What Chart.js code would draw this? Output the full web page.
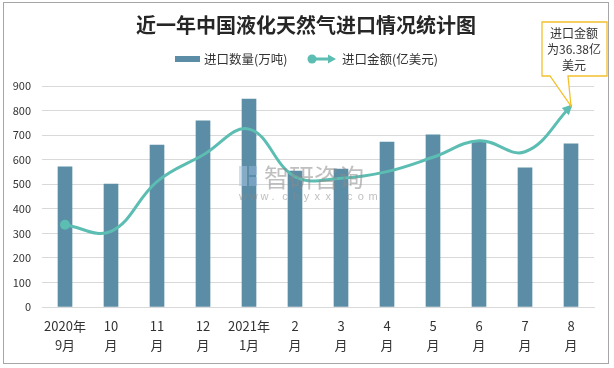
<!DOCTYPE html>
<html>
<head>
<meta charset="utf-8">
<script src="https://cdn.jsdelivr.net/npm/chart.js@4/dist/chart.umd.min.js"></script>
<style>
  html, body { margin: 0; padding: 0; background: #fff; }
  #wrap { width: 614px; height: 368px; position: relative; }
</style>
</head>
<body>
<div id="wrap"><canvas id="c" width="614" height="368"></canvas></div>
<script>
const categories = [['2020年','9月'],['10','月'],['11','月'],['12','月'],['2021年','1月'],['2','月'],['3','月'],['4','月'],['5','月'],['6','月'],['7','月'],['8','月']];
const importVolume = [571, 501, 659, 758, 847, 554, 562, 672, 701, 671, 567, 664];
const importAmount = [14.9, 13.7, 22.7, 27.5, 32.2, 23.6, 23.3, 24.5, 27.1, 30.1, 28.1, 36.38];
const volumeTicks = [0, 100, 200, 300, 400, 500, 600, 700, 800, 900];
const titleText = '近一年中国液化天然气进口情况统计图';
const seriesNames = ['进口数量(万吨)', '进口金额(亿美元)'];
const calloutLines = ['进口金额', '为36.38亿', '美元'];

const BAR = '#5b8da6';
const LINE = '#5cbdb2';
const FONT = '"Noto Sans CJK SC", "Liberation Sans", sans-serif';

const decor = {
  id: 'decor',
  beforeDraw(chart) {
    const ctx = chart.ctx;
    ctx.save();
    ctx.fillStyle = '#fff';
    ctx.fillRect(0, 0, chart.width, chart.height);
    ctx.restore();
  },
  afterDatasetsDraw(chart) {
    const ctx = chart.ctx;
    // watermark
    ctx.save();
    ctx.globalAlpha = 0.55;
    ctx.fillStyle = '#a9c4e0';
    ctx.fillRect(239, 166, 8, 20);
    ctx.fillStyle = '#8fb3d9';
    ctx.fillRect(249, 166, 8, 9);
    ctx.fillRect(249, 177, 8, 9);
    ctx.fillStyle = '#8a8a8a';
    ctx.font = '25px ' + FONT;
    ctx.textBaseline = 'middle';
    ctx.textAlign = 'left';
    ctx.fillText('智研咨询', 264, 177);
    ctx.font = '11px "Liberation Sans", sans-serif';
    const w = 'www.chyxx.com';
    for (let i = 0; i < w.length; i++) {
      ctx.fillText(w[i], 239 + i * 10.8, 197);
    }
    ctx.restore();

    // arrowhead at line end
    const meta = chart.getDatasetMeta(1);
    const pts = meta.data;
    const last = pts[pts.length - 1];
    const cpx = last.cp1x !== undefined ? last.cp1x : pts[pts.length - 2].x;
    const cpy = last.cp1y !== undefined ? last.cp1y : pts[pts.length - 2].y;
    const ang = Math.atan2(last.y - cpy, last.x - cpx);
    ctx.save();
    ctx.translate(last.x, last.y);
    ctx.rotate(ang);
    ctx.fillStyle = LINE;
    ctx.beginPath();
    ctx.moveTo(2, 0);
    ctx.lineTo(-8, -5);
    ctx.lineTo(-8, 5);
    ctx.closePath();
    ctx.fill();
    ctx.restore();

    // callout
    ctx.save();
    const bx = 542, by = 22, bw = 65, bh = 54;
    ctx.strokeStyle = '#f2c12e';
    ctx.lineWidth = 1.3;
    ctx.fillStyle = '#fff';
    ctx.beginPath();
    ctx.moveTo(bx, by);
    ctx.lineTo(bx + bw, by);
    ctx.lineTo(bx + bw, by + bh);
    ctx.lineTo(568, by + bh);
    ctx.lineTo(last.x, last.y);
    ctx.lineTo(550, by + bh);
    ctx.lineTo(bx, by + bh);
    ctx.closePath();
    ctx.fill();
    ctx.stroke();
    ctx.fillStyle = '#333';
    ctx.font = '12px ' + FONT;
    ctx.textAlign = 'center';
    ctx.textBaseline = 'middle';
    calloutLines.forEach((t, i) => ctx.fillText(t, 574, 33 + i * 16));
    ctx.restore();
  },
  afterDraw(chart) {
    const ctx = chart.ctx;
    ctx.save();
    // title
    ctx.fillStyle = '#262626';
    ctx.font = 'bold 20px ' + FONT;
    ctx.textAlign = 'center';
    ctx.textBaseline = 'middle';
    ctx.fillText(titleText, 306, 25);
    // legend
    ctx.font = '12.5px ' + FONT;
    ctx.textAlign = 'left';
    ctx.fillStyle = BAR;
    ctx.fillRect(175, 56, 25, 6);
    ctx.fillStyle = '#333';
    ctx.fillText(seriesNames[0], 204, 59);
    ctx.strokeStyle = LINE;
    ctx.lineWidth = 3;
    ctx.beginPath();
    ctx.moveTo(312, 59);
    ctx.lineTo(329, 59);
    ctx.stroke();
    ctx.fillStyle = LINE;
    ctx.beginPath();
    ctx.arc(312, 59, 4.5, 0, Math.PI * 2);
    ctx.fill();
    ctx.beginPath();
    ctx.moveTo(336, 59);
    ctx.lineTo(328, 54.5);
    ctx.lineTo(328, 63.5);
    ctx.closePath();
    ctx.fill();
    ctx.fillStyle = '#333';
    ctx.fillText(seriesNames[1], 342, 59);
    // outer border
    ctx.strokeStyle = '#a6a6a6';
    ctx.lineWidth = 1;
    ctx.strokeRect(3.5, 2.5, 605, 361);
    ctx.restore();
  }
};

new Chart(document.getElementById('c'), {
  data: {
    labels: categories,
    datasets: [
      {
        type: 'bar',
        label: seriesNames[0],
        data: importVolume,
        backgroundColor: BAR,
        barThickness: 14,
        yAxisID: 'y',
        order: 2
      },
      {
        type: 'line',
        label: seriesNames[1],
        data: importAmount,
        borderColor: LINE,
        backgroundColor: LINE,
        borderWidth: 3,
        tension: 0.4,
        pointRadius: importAmount.map((v, i) => i === 0 ? 5 : 0),
        pointHoverRadius: 0,
        pointBorderWidth: 0,
        yAxisID: 'y1',
        order: 1
      }
    ]
  },
  options: {
    responsive: false,
    animation: false,
    events: [],
    layout: { padding: { left: 4, right: 20, top: 86, bottom: 11 } },
    plugins: { legend: { display: false }, title: { display: false }, tooltip: { enabled: false } },
    scales: {
      x: {
        grid: { display: false, drawTicks: false },
        border: { display: true, color: '#d9d9d9', width: 1 },
        ticks: {
          color: '#333',
          font: { family: FONT, size: 13, lineHeight: 1.45 },
          padding: 10,
          maxRotation: 0,
          autoSkip: false
        },
        afterFit(s) { s.height = 50; }
      },
      y: {
        position: 'left',
        min: 0,
        max: 900,
        afterBuildTicks(s) { s.ticks = volumeTicks.map(v => ({ value: v })); },
        grid: { color: '#d9d9d9', drawTicks: false },
        border: { display: false },
        ticks: {
          color: '#333',
          font: { family: FONT, size: 11 },
          padding: 11
        },
        afterFit(s) { s.width = 38; }
      },
      y1: {
        display: false,
        min: 0,
        max: 40
      }
    }
  },
  plugins: [decor]
});
</script>
</body>
</html>
